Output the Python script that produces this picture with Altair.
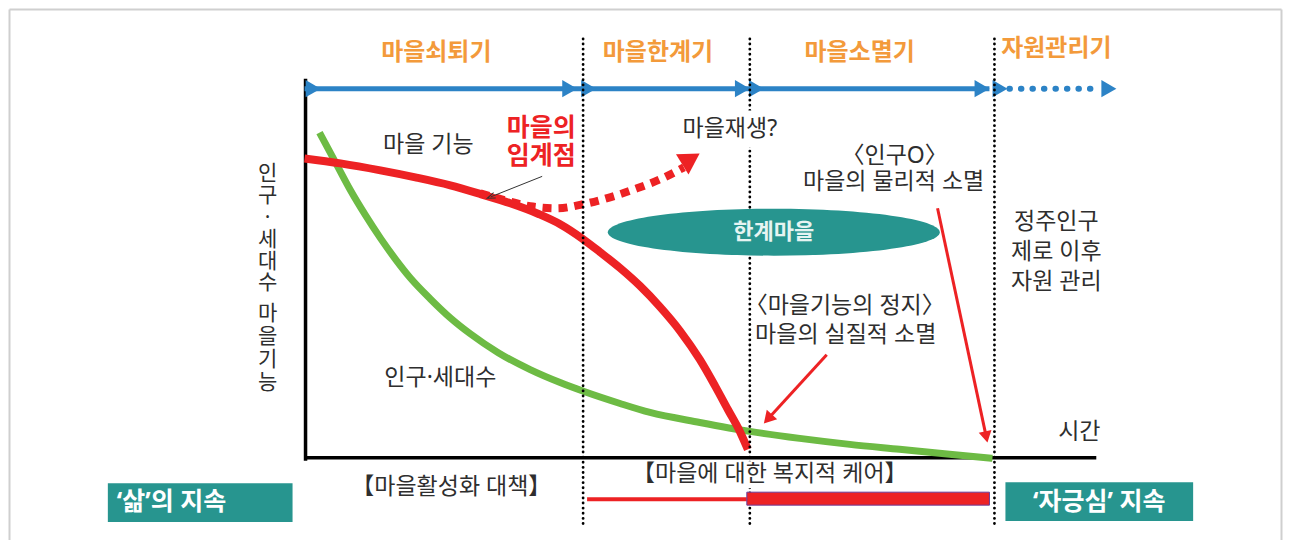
import altair as alt
import pandas as pd

# ---------------- data (time t, level L) ----------------
FONT = "Noto Sans CJK KR"
MIXFONT = "'Noto Sans', 'Noto Sans CJK KR'"
ORANGE = "#F39A3B"
BLUE = "#2C83C6"
GREEN = "#6DBB44"
RED = "#ED2224"
TEAL = "#27958F"
DARK = "#2E2E2E"

# population / households curve
pop_t = [15, 31, 46, 61, 76, 91, 106, 126, 146, 166, 194, 226, 256, 280, 316, 346, 396, 446, 496, 546, 596, 646, 689]
pop_L = [328, 298, 270, 245, 222, 201, 182, 161, 142, 126, 107, 90, 77, 68, 56, 47, 37, 28, 21, 15, 10, 5, 1]

# village function curve
fun_t = [0, 36, 76, 111, 146, 177, 206, 235, 256, 279, 296, 316, 336, 356, 376, 396, 411, 424, 436, 444]
fun_L = [302, 297, 290, 283, 275, 266, 257, 246, 236, 221, 208, 192, 174, 153, 129, 100, 74, 50, 28, 10]

# regeneration (dotted) path
reg_t = [176, 201, 226, 253, 279, 306, 333, 356, 380]
reg_L = [267, 260, 254, 252, 256, 263, 272, 281, 293]

# phase boundaries and labels
bound_t = [279, 446, 691]
phase_names = ["마을쇠퇴기", "마을한계기", "마을소멸기", "자원관리기"]
phase_t = [132, 354, 556, 753]
phase_L = [408, 408, 408, 412]

# time arrow
arrow_L = 372
arrow_solid_t = [0, 686]
arrow_dot_t = [706, 798]
arrow_head_t = [8.6, 265.6, 284.6, 438.6, 452.6, 678.6, 696.6, 805.6]

# annotations (dark text)
note_text = ["마을 기능", "마을재생?", "〈인구O〉", "마을의 물리적 소멸", "정주인구", "제로 이후", "자원 관리",
             "〈마을기능의 정지〉", "마을의 실질적 소멸", "인구·세대수", "시간",
             "【마을활성화 대책】", "【마을에 대한 복지적 케어】"]
note_t = [124, 426, 591, 590, 753, 753, 753, 541, 542, 136, 776, 147, 466]
note_L = [315, 332, 304, 278, 238, 208, 178, 154, 125, 82, 27, -28, -15]

crit_text = "마을의\n임계점"
crit_t = 237
crit_L_top = 345

# vertical axis title, written one character per line
ytitle_parts = ["인\n구\n·\n세\n대\n수", "마\n을\n기\n능"]
ytitle_t = [-37, -37]
ytitle_L_top = [297, 157]
ytitle_lh = [21.8, 23]

# pointer arrows: start, head centre, head angle
ptr_t0 = [634, 523]
ptr_L0 = [252, 105]
ptr_t1 = [682.8, 464.1]
ptr_L1 = [22.5, 40.5]
ptr_angle = [168, 222]
ptr_size = [169, 196]

crit_ptr = {"t0": 238, "L0": 284, "t1": 186.7, "L1": 263.5, "angle": 248}
reg_head = {"t": 387, "L": 301.5, "angle": 58}

ellipse = {"t": 470, "L": 228, "label": "한계마을"}

# bottom policy bars
thin_bar = {"t": 283, "t2": 443, "L": -40}
thick_bar = {"t": 443, "t2": 686, "L": -33, "L2": -46}
boxes_t = [-197, 702]
boxes_t2 = [-12, 890]
boxes_L = [-24, -23]
boxes_L2 = [-63, -62]
box_text = ["‘삶’의 지속", "‘자긍심’ 지속"]
box_text_t = [-188, 796]
box_text_L = [-43, -43]
box_text_align = ["left", "center"]

# ---------------- scales ----------------
xs = alt.Scale(domain=[-296, 979], nice=False, zero=False)
ys = alt.Scale(domain=[-81, 452], nice=False, zero=False)


def X(f="t"):
    return alt.X(f"{f}:Q", scale=xs, axis=None)


def Y(f="L"):
    return alt.Y(f"{f}:Q", scale=ys, axis=None)


layers = []

# frame
frame = pd.DataFrame({"t": [-295.5, -295.5, 978.5], "t2": [-295.5, 978.5, 978.5],
                      "L": [451.5, 451.5, 451.5], "L2": [-81, 451.5, -81]})
layers.append(alt.Chart(frame).mark_rule(color="#CFCFCF", strokeWidth=2).encode(
    x=X(), x2="t2:Q", y=Y(), y2="L2:Q"))

# axes
axes = pd.DataFrame({"t": [1, 0], "t2": [1, 793], "L": [382, 1.5], "L2": [-1.5, 1.5]})
layers.append(alt.Chart(axes).mark_rule(color="black", strokeWidth=3.5).encode(
    x=X(), x2="t2:Q", y=Y(), y2="L2:Q"))

# blue time arrow
layers.append(alt.Chart(pd.DataFrame({"t": arrow_solid_t, "L": [arrow_L] * 2})).mark_line(
    color=BLUE, strokeWidth=5).encode(x=X(), y=Y()))
layers.append(alt.Chart(pd.DataFrame({"t": arrow_dot_t, "L": [arrow_L] * 2})).mark_line(
    color=BLUE, strokeWidth=6, strokeDash=[0.5, 11], strokeCap="round").encode(x=X(), y=Y()))
layers.append(alt.Chart(pd.DataFrame({"t": arrow_head_t, "L": [arrow_L] * len(arrow_head_t)})).mark_point(
    shape="triangle-right", filled=True, size=300, color=BLUE, opacity=1).encode(x=X(), y=Y()))

# curves
layers.append(alt.Chart(pd.DataFrame({"t": pop_t, "L": pop_L})).mark_line(
    color=GREEN, strokeWidth=7, interpolate="monotone").encode(x=X(), y=Y()))
layers.append(alt.Chart(pd.DataFrame({"t": fun_t, "L": fun_L})).mark_line(
    color=RED, strokeWidth=8, interpolate="monotone").encode(x=X(), y=Y()))
layers.append(alt.Chart(pd.DataFrame({"t": reg_t, "L": reg_L})).mark_line(
    color=RED, strokeWidth=8, strokeDash=[9, 7], interpolate="monotone").encode(x=X(), y=Y()))
layers.append(alt.Chart(pd.DataFrame([reg_head])).mark_point(
    shape="triangle-up", filled=True, size=560, color=RED, opacity=1).encode(
    x=X(), y=Y(), angle=alt.Angle("angle:Q", scale=None)))

# phase boundaries (dotted)
bounds = pd.DataFrame({"t": bound_t, "L": [422] * 3, "L2": [-67] * 3})
layers.append(alt.Chart(bounds).mark_rule(color="black", strokeWidth=2.8, strokeDash=[0.1, 5],
                                          strokeCap="round").encode(x=X(), y=Y(), y2="L2:Q"))

# white backing behind some labels
white = pd.DataFrame({"t": [333, 369], "t2": [596, 486], "L": [-2, 350], "L2": [-29, 313]})
layers.append(alt.Chart(white).mark_rect(color="white").encode(x=X(), x2="t2:Q", y=Y(), y2="L2:Q"))

# limit-village ellipse
ell_path = "M -1 0 A 1 0.1416 0 1 1 1 0 A 1 0.1416 0 1 1 -1 0 Z"
layers.append(alt.Chart(pd.DataFrame([ellipse])).mark_point(
    shape=ell_path, filled=True, size=332 * 332, color=TEAL, opacity=1).encode(x=X(), y=Y()))
layers.append(alt.Chart(pd.DataFrame([ellipse])).mark_text(
    font=FONT, fontSize=22, fontWeight="bold", color="#E6F4F2", baseline="middle").encode(
    x=X(), y=Y(), text="label:N"))

# pointer arrows
ptr = pd.DataFrame({"t": ptr_t0, "L": ptr_L0, "t2": ptr_t1, "L2": ptr_L1})
layers.append(alt.Chart(ptr).mark_rule(color=RED, strokeWidth=3).encode(
    x=X(), x2="t2:Q", y=Y(), y2="L2:Q"))
ptr_heads = pd.DataFrame({"t": ptr_t1, "L": ptr_L1, "angle": ptr_angle, "s": ptr_size})
layers.append(alt.Chart(ptr_heads).mark_point(shape="triangle-up", filled=True, color=RED, opacity=1).encode(
    x=X(), y=Y(), angle=alt.Angle("angle:Q", scale=None), size=alt.Size("s:Q", scale=None)))

cp = pd.DataFrame([crit_ptr])
layers.append(alt.Chart(cp).mark_rule(color="#333333", strokeWidth=1).encode(
    x=X("t0"), x2="t1:Q", y=Y("L0"), y2="L1:Q"))
layers.append(alt.Chart(cp).mark_point(shape="M -0.7 1 L 0 -1 L 0.7 1", filled=False, size=64,
                                       color="#333333", strokeWidth=1, opacity=1).encode(
    x=X("t1"), y=Y("L1"), angle=alt.Angle("angle:Q", scale=None)))

# bottom bars
layers.append(alt.Chart(pd.DataFrame([thin_bar])).mark_rule(color=RED, strokeWidth=4).encode(
    x=X(), x2="t2:Q", y=Y()))
layers.append(alt.Chart(pd.DataFrame([thick_bar])).mark_rect(color=RED, stroke="#6A3D9A", strokeWidth=1).encode(
    x=X(), x2="t2:Q", y=Y(), y2="L2:Q"))
boxes = pd.DataFrame({"t": boxes_t, "t2": boxes_t2, "L": boxes_L, "L2": boxes_L2})
layers.append(alt.Chart(boxes).mark_rect(color=TEAL).encode(x=X(), x2="t2:Q", y=Y(), y2="L2:Q"))
bt = pd.DataFrame({"t": box_text_t, "L": box_text_L, "txt": box_text, "al": box_text_align})
for al in ["left", "center"]:
    layers.append(alt.Chart(bt[bt.al == al]).mark_text(
        font=MIXFONT, fontSize=25, fontWeight="bold", color="white", align=al, baseline="middle").encode(
        x=X(), y=Y(), text="txt:N"))

# texts
layers.append(alt.Chart(pd.DataFrame({"t": phase_t, "L": phase_L, "txt": phase_names})).mark_text(
    font=FONT, fontSize=24, fontWeight="bold", color=ORANGE, baseline="middle").encode(
    x=X(), y=Y(), text="txt:N"))
layers.append(alt.Chart(pd.DataFrame({"t": note_t, "L": note_L, "txt": note_text})).mark_text(
    font=MIXFONT, fontSize=23, color=DARK, baseline="middle").encode(x=X(), y=Y(), text="txt:N"))
layers.append(alt.Chart(pd.DataFrame({"t": [crit_t], "L": [crit_L_top], "txt": [crit_text]})).mark_text(
    font=FONT, fontSize=25, fontWeight="bold", color=RED, baseline="top", lineBreak="\n",
    lineHeight=28).encode(x=X(), y=Y(), text="txt:N"))
for part, tt, lt, lh in zip(ytitle_parts, ytitle_t, ytitle_L_top, ytitle_lh):
    layers.append(alt.Chart(pd.DataFrame({"t": [tt], "L": [lt], "txt": [part]})).mark_text(
        font=MIXFONT, fontSize=21, color=DARK, baseline="top", lineBreak="\n", lineHeight=lh).encode(
        x=X(), y=Y(), text="txt:N"))

chart = alt.layer(*layers).properties(
    width=1275, height=533, padding=0, background="white",
    autosize=alt.AutoSizeParams(type="fit", contains="padding"),
).configure_view(stroke=None)

chart.save("out.html", embed_options={"renderer": "svg", "actions": False})
